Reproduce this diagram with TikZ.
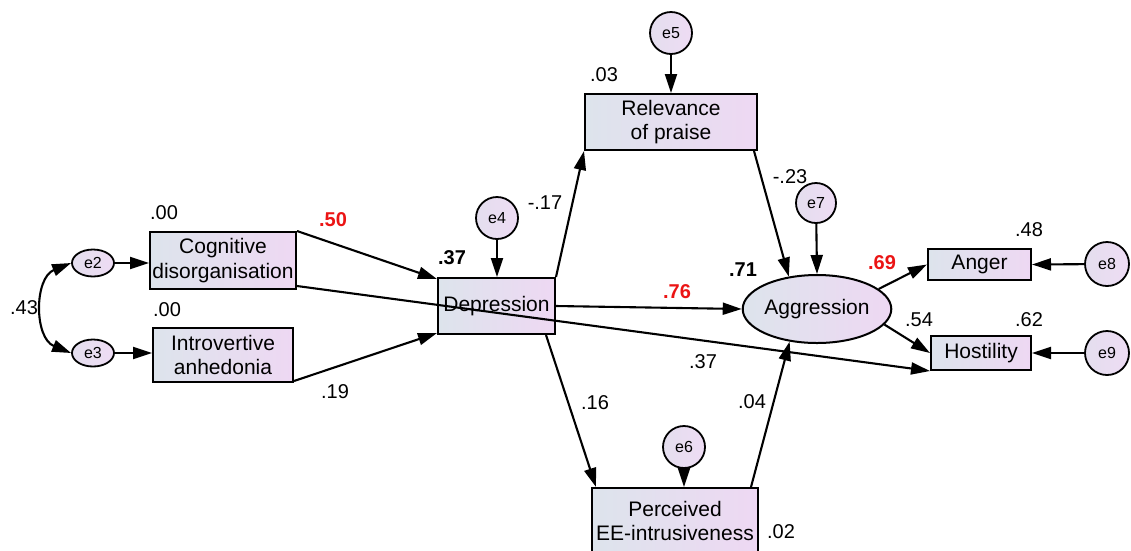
\documentclass[tikz,border=0pt]{standalone}
\usepackage{fontspec}
\setmainfont{Liberation Sans}
\usetikzlibrary{arrows.meta,shapes.geometric}
\definecolor{boxL}{RGB}{221,228,236}
\definecolor{boxR}{RGB}{238,216,243}
\definecolor{errL}{RGB}{228,222,238}
\definecolor{errR}{RGB}{238,220,244}
\definecolor{redlab}{RGB}{235,20,20}
\tikzset{
  box/.style={draw, line width=2pt, left color=boxL, right color=boxR, inner sep=0pt, align=center,
     font=\fontsize{21}{24.5}\selectfont},
  latent/.style={draw, line width=2pt, ellipse, left color=boxL, right color=boxR, inner sep=0pt,
     font=\fontsize{21}{24.5}\selectfont},
  err/.style={draw, line width=1.8pt, circle, left color=errL, right color=errR, inner sep=0pt,
     font=\fontsize{16}{18}\selectfont},
  errell/.style={draw, line width=1.8pt, ellipse, left color=errL, right color=errR, inner sep=0pt,
     font=\fontsize{16}{18}\selectfont},
  lab/.style={inner sep=0pt, font=\fontsize{20}{22}\selectfont},
  blab/.style={lab, font=\fontsize{20}{22}\selectfont\bfseries},
  rlab/.style={blab, text=redlab},
  conn/.style={line width=2.1pt, -{Triangle[length=19pt,width=12pt]}},
  dconn/.style={line width=2.1pt, {Triangle[length=19pt,width=12pt]}-{Triangle[length=19pt,width=12pt]}}
}
\begin{document}
\begin{tikzpicture}[x=1pt,y=-1pt]
\useasboundingbox (0,0) rectangle (1131,550);
% observed / latent variables
\node[box, minimum width=146pt, minimum height=57pt] (cog) at (223,260.5) {Cognitive\\disorganisation};
\node[box, minimum width=140pt, minimum height=54pt] (intro) at (223,355) {Introvertive\\anhedonia};
\node[box, minimum width=117pt, minimum height=56pt] (dep) at (496.5,306) {Depression};
\node[box, minimum width=172pt, minimum height=56pt] (rel) at (671,122) {Relevance\\of praise};
\node[box, minimum width=166pt, minimum height=66pt] (per) at (675,521) {Perceived\\EE-intrusiveness};
\node[latent, minimum width=119pt, minimum height=68pt] (aggr) at (817,309) {Aggression};
\node[box, minimum width=103pt, minimum height=31pt] (anger) at (979.5,264.5) {Anger};
\node[box, minimum width=100pt, minimum height=34pt] (host) at (981,353) {Hostility};
% error terms
\node[errell, minimum width=42pt, minimum height=27pt] (e2) at (93,263) {e2};
\node[errell, minimum width=42pt, minimum height=27pt] (e3) at (93,353) {e3};
\node[err, minimum size=42pt] (e4) at (497,218) {e4};
\node[err, minimum size=42pt] (e5) at (671,33) {e5};
\node[err, minimum size=42pt] (e6) at (684,447) {e6};
\node[err, minimum size=40pt] (e7) at (816,203) {e7};
\node[err, minimum size=44pt] (e8) at (1107,264) {e8};
\node[err, minimum size=44pt] (e9) at (1107,353) {e9};
% connectors
\draw[conn] (e2.east) -- (e2.east -| cog.west);
\draw[conn] (e3.east) -- (e3.east -| intro.west);
\draw[dconn] (e2.west) .. controls (34,278) and (34,338) .. (e3.west);
\draw[conn] (cog.north east) -- ([yshift=-2pt]dep.north west);
\draw[conn] ([yshift=4pt]cog.south east) -- (host.south west);
\draw[conn] ([yshift=2pt]intro.south east) -- ([yshift=2pt]dep.south west);
\draw[conn] (e4) -- (e4 |- dep.north);
\draw[conn] (e5) -- (e5 |- rel.north);
\draw[conn] (e6) -- (e6 |- per.north);
\draw[conn] (e7) -- (aggr.north);
\draw[conn] (dep.north east) -- (rel.south west);
\draw[conn] (dep.east) -- (aggr.west);
\draw[conn] ([xshift=-10pt]dep.south east) -- ([xshift=5pt]per.north west);
\draw[conn] ([xshift=-4pt]rel.south east) -- (aggr.131);
\draw[conn] ([xshift=-8pt]per.north east) -- (aggr.230);
\draw[conn] (aggr.18) -- (anger.west);
\draw[conn] (aggr.347) -- (host.west);
\draw[conn] (e8) -- (anger.east);
\draw[conn] (e9) -- (host.east);
% labels
\node[lab] (l1) at (164,213) {.00};
\node[lab] (l2) at (167,310) {.00};
\node[lab] (l3) at (24,308) {.43};
\node[rlab] (l4) at (333,220) {.50};
\node[lab] (l5) at (335,392) {.19};
\node[blab] (l6) at (452,258) {.37};
\node[lab] (l7) at (545,203) {-.17};
\node[lab] (l8) at (604,75) {.03};
\node[rlab] (l9) at (677,292) {.76};
\node[lab] (l10) at (790,177) {-.23};
\node[blab] (l11) at (743,270) {.71};
\node[rlab] (l12) at (882,263) {.69};
\node[lab] (l13) at (1029,230) {.48};
\node[lab] (l14) at (919,320) {.54};
\node[lab] (l15) at (1029,320) {.62};
\node[lab] (l16) at (703,362) {.37};
\node[lab] (l17) at (595,403) {.16};
\node[lab] (l18) at (752,402) {.04};
\node[lab] (l19) at (781,532) {.02};
\end{tikzpicture}
\end{document}
